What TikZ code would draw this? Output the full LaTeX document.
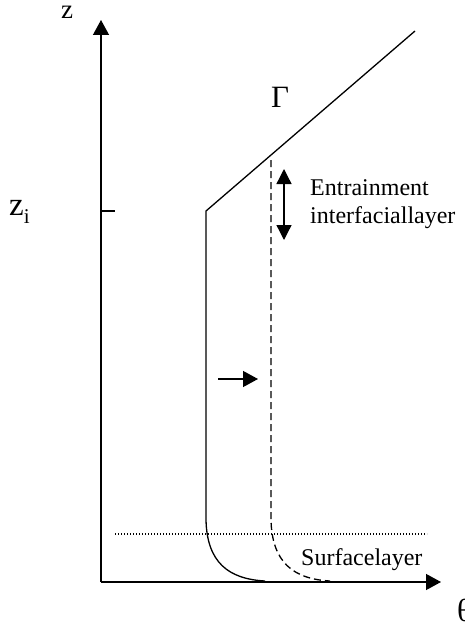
\documentclass[tikz,border=0pt]{standalone}
\usepackage{fontspec}
\setmainfont{Liberation Serif}
\usetikzlibrary{arrows.meta}
\begin{document}
\begin{tikzpicture}[x=1pt,y=-1pt,
  line/.style={line width=1.3pt},
  bigtip/.style={-{Triangle[length=15pt,width=16pt]}},
  lbl/.style={inner sep=0pt,anchor=base west,font=\fontsize{24}{28}\selectfont}]
\useasboundingbox (0,0) rectangle (465,623);
% axes
\coordinate (O) at (101,582);
\coordinate (ztop) at (101,20);
\coordinate (xend) at (441,582);
\draw[line,bigtip] (O) -- (ztop);
\draw[line,bigtip] (O) -- (xend);
\node[lbl,font=\fontsize{27}{30}\selectfont] (zl) at (61,19) {z};
\node[lbl,font=\fontsize{33}{36}\selectfont] (zi) at (9,215) {z\raisebox{-8pt}{\fontsize{21}{24}\selectfont i}};
\coordinate (tk1) at (101,211);
\coordinate (tk2) at (115,211);
\draw[line] (tk1) -- (tk2);
\node[lbl,font=\fontsize{32}{36}\selectfont] (th) at (457,621) {θ};
% solid profile
\coordinate (s0) at (415,31);
\coordinate (s1) at (206,211);
\coordinate (s2) at (206,520);
\coordinate (s3) at (265,581);
\draw[line] (s0) -- (s1) -- (s2) .. controls (207,562) and (228,579) .. (s3);
% dashed profile
\coordinate (d0) at (271,160);
\coordinate (d1) at (271,520);
\coordinate (d2) at (330,581);
\draw[line,dash pattern=on 7pt off 4pt] (d0) -- (d1) .. controls (272,562) and (293,579) .. (d2);
% dotted surface layer line
\coordinate (p0) at (115,534);
\coordinate (p1) at (427,534);
\draw[line width=1.3pt,dash pattern=on 1.4pt off 1.6pt] (p0) -- (p1);
% double arrow
\coordinate (a0) at (284,169);
\coordinate (a1) at (284,240);
\draw[line,{Triangle[length=15pt,width=15pt]}-{Triangle[length=15pt,width=15pt]}] (a0) -- (a1);
% right arrow
\coordinate (r0) at (218,379);
\coordinate (r1) at (258,379);
\draw[line,-{Triangle[length=15pt,width=16pt]}] (r0) -- (r1);
% labels
\node[lbl] (ent) at (310,195) {Entrainment};
\node[lbl] (inter) at (310,223) {interfaciallayer};
\node[lbl] (surf) at (301,565) {Surfacelayer};
\node[lbl,font=\fontsize{31}{34}\selectfont] (G) at (271,107) {Γ};
\end{tikzpicture}
\end{document}
